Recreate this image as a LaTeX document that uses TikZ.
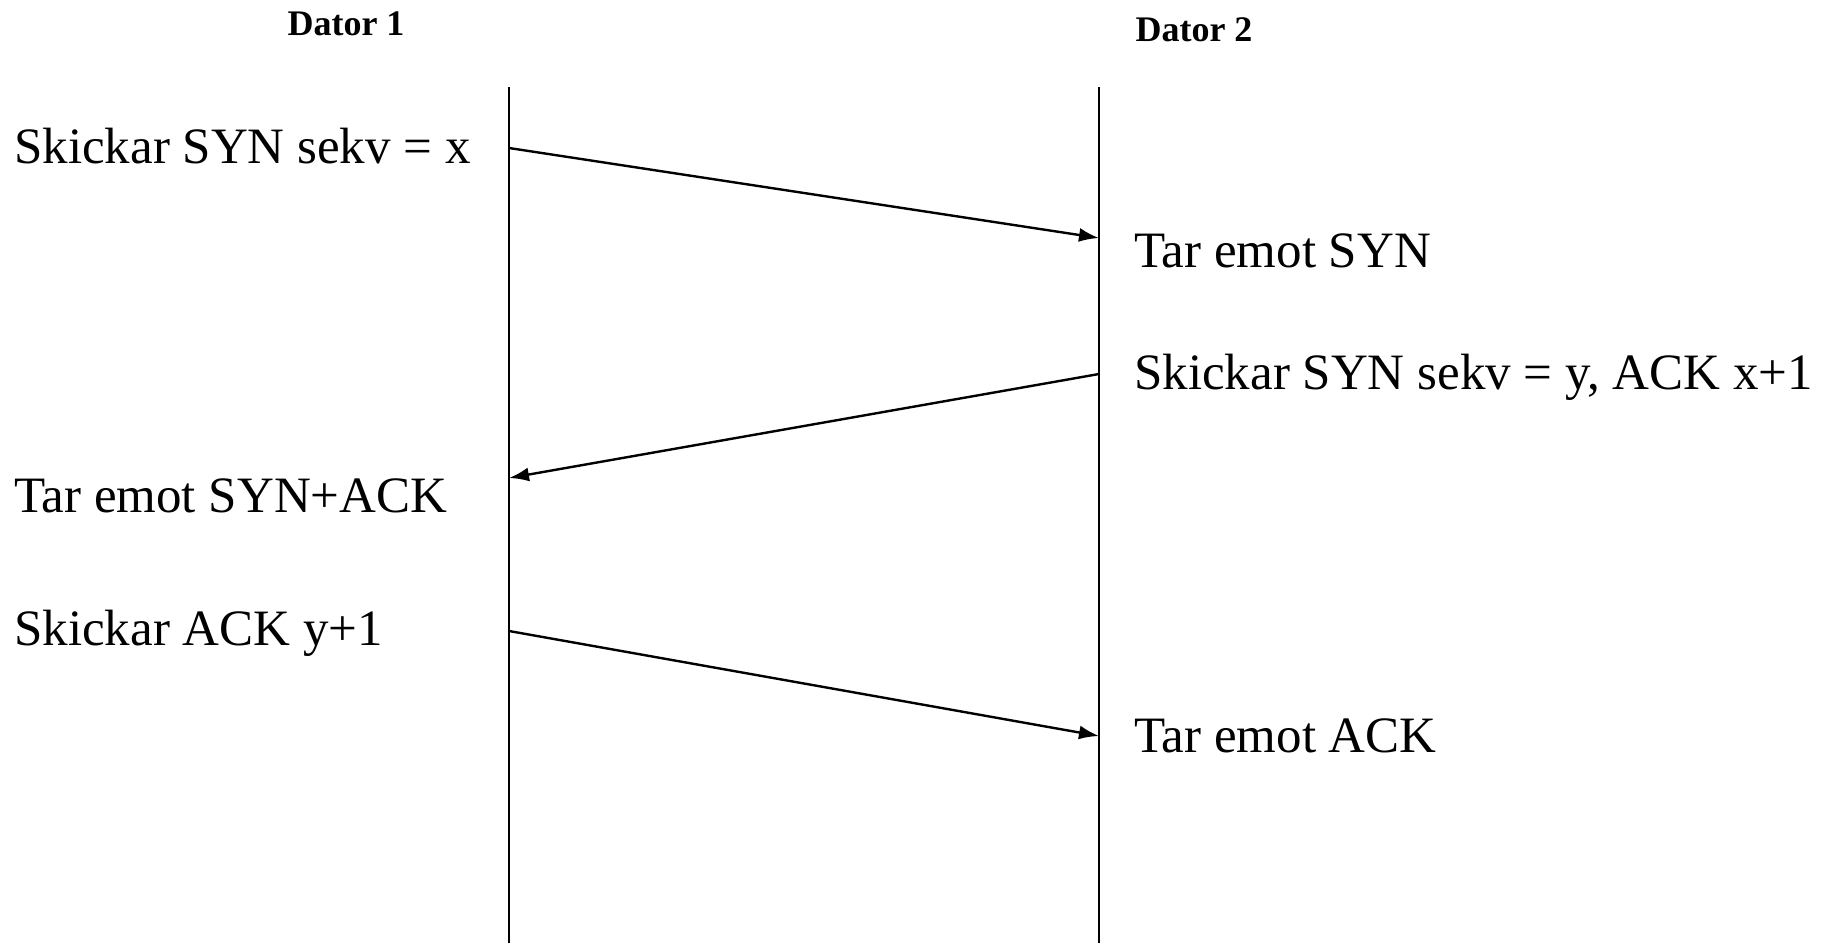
\documentclass[tikz,border=0pt]{standalone}
\usepackage{fontspec}
\setmainfont{Liberation Serif}
\usetikzlibrary{arrows.meta}
\tikzset{
  lifeline/.style={line width=1.6pt, black},
  msg/.style={line width=2.4pt, black, -{Latex[length=20pt,width=14pt]}},
  lbl/.style={anchor=base west, inner sep=0pt, font=\fontsize{51}{60}\selectfont},
  head/.style={anchor=base, inner sep=0pt, font=\fontsize{36}{42}\selectfont\bfseries}
}
\begin{document}
\begin{tikzpicture}[x=1pt,y=-1pt]
\useasboundingbox (0,0) rectangle (1823,943);
% headers
\node[head] (h1) at (346,35) {Dator 1};
\node[head] (h2) at (1194,41) {Dator 2};
% lifelines
\coordinate (l1top) at (509,87);
\coordinate (l1bot) at (509,943);
\coordinate (l2top) at (1099,87);
\coordinate (l2bot) at (1099,943);
\draw[lifeline] (l1top) -- (l1bot);
\draw[lifeline] (l2top) -- (l2bot);
% message endpoints
\coordinate (a1s) at (509,148);
\coordinate (a1e) at (1099,238);
\coordinate (a2s) at (1099,374);
\coordinate (a2e) at (509,478);
\coordinate (a3s) at (509,631);
\coordinate (a3e) at (1099,736);
\draw[msg] (a1s) -- (a1e);
\draw[msg] (a2s) -- (a2e);
\draw[msg] (a3s) -- (a3e);
% labels
\node[lbl] (t1) at (14,163) {Skickar SYN sekv = x};
\node[lbl] (t2) at (1134,267) {Tar emot SYN};
\node[lbl] (t3) at (1134,389) {Skickar SYN sekv = y, ACK x+1};
\node[lbl] (t4) at (14,512) {Tar emot SYN+ACK};
\node[lbl] (t5) at (14,645) {Skickar ACK y+1};
\node[lbl] (t6) at (1134,752) {Tar emot ACK};
\end{tikzpicture}
\end{document}
